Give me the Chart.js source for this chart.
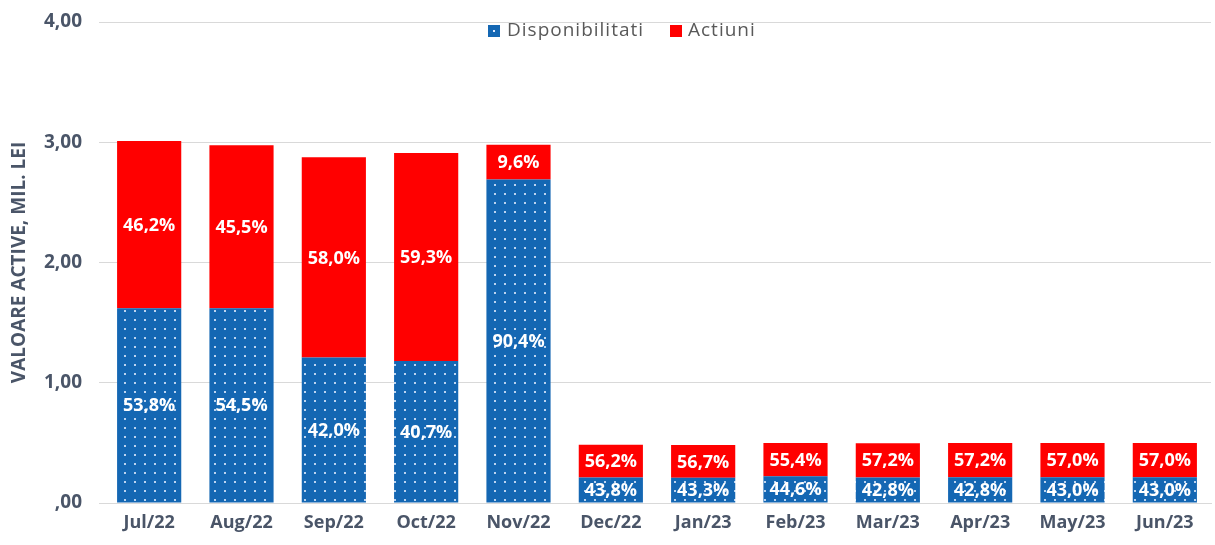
<!DOCTYPE html>
<html><head><meta charset="utf-8">
<script src="https://cdn.jsdelivr.net/npm/chart.js@4.4.1/dist/chart.umd.min.js"></script>
<style>html,body{margin:0;padding:0;background:#fff;}#wrap{width:1215px;height:545px;}</style>
</head><body><div id="wrap"><canvas id="c" width="1215" height="545"></canvas></div>
<script>
const categories = ['Jul/22','Aug/22','Sep/22','Oct/22','Nov/22','Dec/22','Jan/23','Feb/23','Mar/23','Apr/23','May/23','Jun/23'];
const disponibilitati = [1.62, 1.62, 1.21, 1.18, 2.69, 0.212, 0.209, 0.223, 0.213, 0.214, 0.215, 0.215];
const actiuni = [1.39, 1.355, 1.665, 1.73, 0.29, 0.273, 0.274, 0.277, 0.284, 0.286, 0.285, 0.285];
const pctDisponibilitati = ['53,8%','54,5%','42,0%','40,7%','90,4%','43,8%','43,3%','44,6%','42,8%','42,8%','43,0%','43,0%'];
const pctActiuni = ['46,2%','45,5%','58,0%','59,3%','9,6%','56,2%','56,7%','55,4%','57,2%','57,2%','57,0%','57,0%'];
const yTickLabels = [',00','1,00','2,00','3,00','4,00'];
const seriesNames = ['Disponibilitati','Actiuni'];

const BLUE = '#1467b3';
const RED = '#ff0000';
const TXT = '#4a5568';
const FONT = '"Open Sans", sans-serif';

function makePattern(){
  const p = document.createElement('canvas');
  p.width = 10; p.height = 9;
  const g = p.getContext('2d');
  g.fillStyle = BLUE; g.fillRect(0,0,10,9);
  g.fillStyle = 'rgba(230,240,255,0.8)';
  g.fillRect(4,4,2,2);
  return document.getElementById('c').getContext('2d').createPattern(p,'repeat');
}
const bluePattern = makePattern();

const labelPlugin = {
  id: 'segLabels',
  afterDatasetsDraw(chart){
    const ctx = chart.ctx;
    ctx.save();
    ctx.font = 'bold 18px ' + FONT;
    ctx.fillStyle = '#ffffff';
    ctx.textAlign = 'center';
    ctx.textBaseline = 'middle';
    const sets = [pctDisponibilitati, pctActiuni];
    chart.data.datasets.forEach((ds, di) => {
      const meta = chart.getDatasetMeta(di);
      meta.data.forEach((bar, i) => {
        const cy = (bar.y + bar.base) / 2;
        ctx.fillText(sets[di][i], bar.x, cy + 1);
      });
    });
    ctx.restore();
  }
};

const legendPlugin = {
  id: 'customLegend',
  afterDraw(chart){
    const ctx = chart.ctx;
    ctx.save();
    ctx.font = '19px ' + FONT;
    if ('letterSpacing' in ctx) ctx.letterSpacing = '1px';
    ctx.textBaseline = 'middle';
    const y = 31;
    let x = 488;
    ctx.fillStyle = BLUE; ctx.fillRect(x, y-6, 12, 12);
    ctx.fillStyle = '#dfe9ff'; ctx.fillRect(x+5, y-1, 2, 2);
    ctx.fillStyle = '#595959';
    ctx.fillText(seriesNames[0], x + 19, y);
    x = 670;
    ctx.fillStyle = RED; ctx.fillRect(x, y-6, 12, 12);
    ctx.fillStyle = '#595959';
    ctx.fillText(seriesNames[1], x + 18, y);
    ctx.restore();
  }
};

new Chart(document.getElementById('c'), {
  type: 'bar',
  data: {
    labels: categories,
    datasets: [
      { label: seriesNames[0], data: disponibilitati, backgroundColor: bluePattern, borderWidth: 0 },
      { label: seriesNames[1], data: actiuni, backgroundColor: RED, borderWidth: 0 }
    ]
  },
  options: {
    responsive: false,
    animation: false,
    devicePixelRatio: 1,
    layout: { padding: { top: 22, right: 4, left: 0, bottom: 0 } },
    plugins: { legend: { display: false }, tooltip: { enabled: false } },
    datasets: { bar: { categoryPercentage: 1, barPercentage: 0.695 } },
    scales: {
      x: {
        stacked: true,
        grid: { display: false, drawTicks: false },
        border: { display: true, color: '#d9d9d9', width: 1 },
        ticks: { color: TXT, font: { family: FONT, size: 18, weight: 'bold' }, padding: 9, maxRotation: 0 },
        afterFit(s){ s.height = 42; s.paddingLeft = 0; s.paddingRight = 0; }
      },
      y: {
        stacked: true,
        min: 0, max: 4,
        grid: { color: '#d9d9d9', lineWidth: 1, drawTicks: true, tickLength: 4, tickColor: '#d9d9d9' },
        border: { display: false },
        ticks: {
          stepSize: 1,
          color: TXT,
          font: { family: FONT, size: 19, weight: 'bold' },
          padding: 17,
          callback: (v, i) => yTickLabels[i]
        },
        title: {
          display: true,
          text: 'VALOARE ACTIVE, MIL. LEI',
          color: TXT,
          font: { family: FONT, size: 19, weight: 'bold' },
          padding: { top: 8, bottom: 0 }
        },
        afterFit(s){ s.width = 103; s.paddingTop = 0; s.paddingBottom = 0; }
      }
    }
  },
  plugins: [labelPlugin, legendPlugin]
});
</script></body></html>
